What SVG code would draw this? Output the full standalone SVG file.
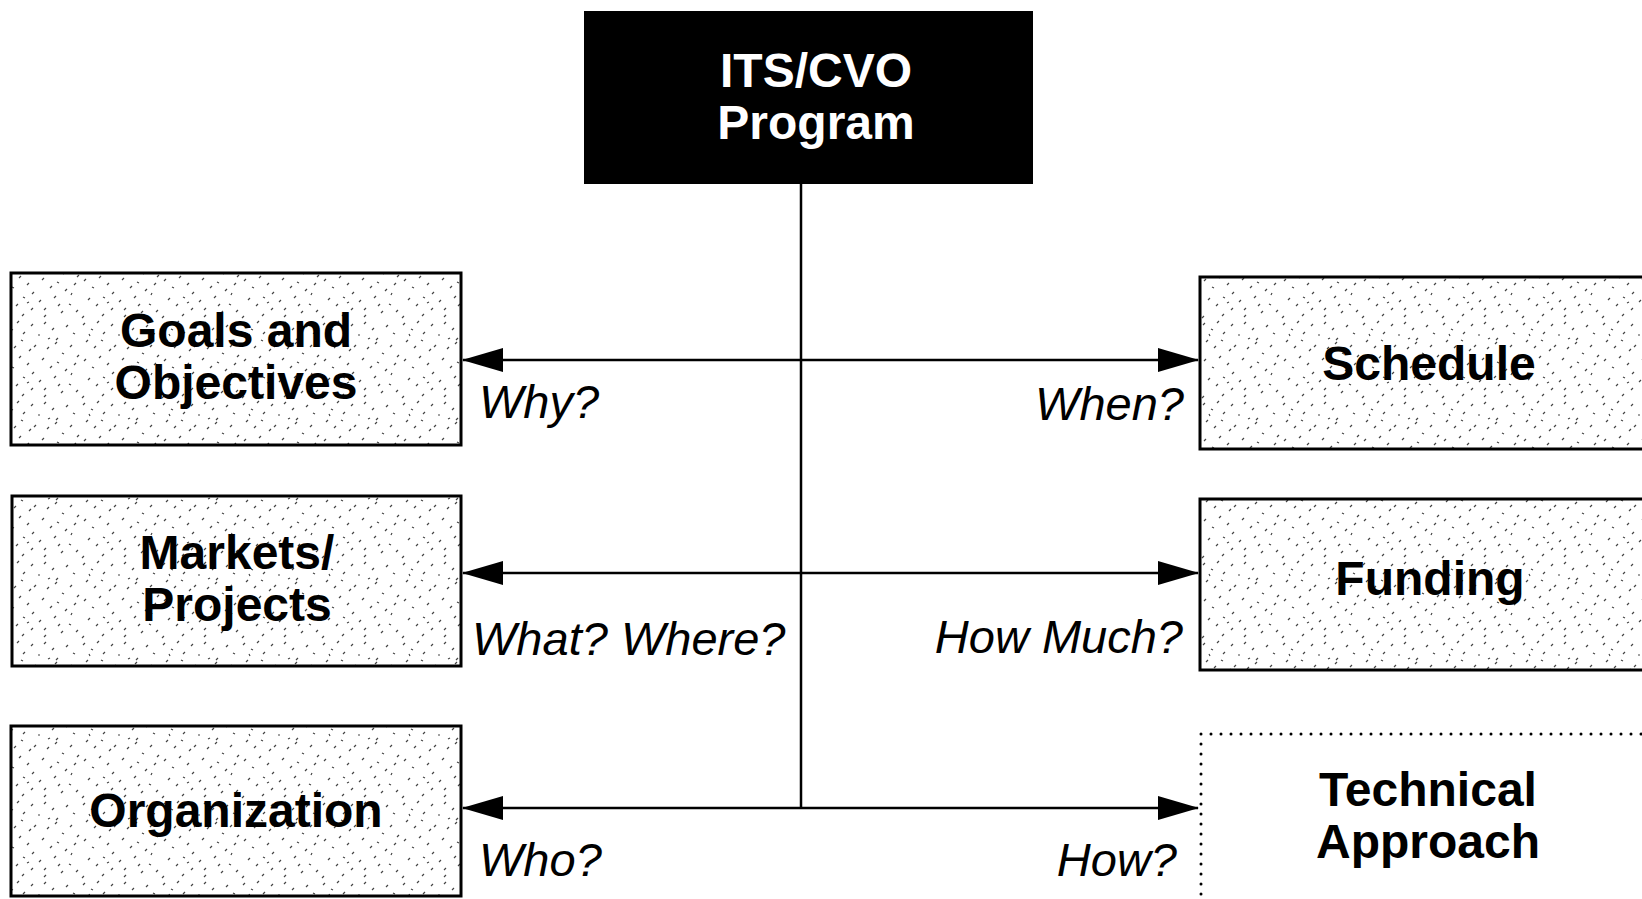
<svg xmlns="http://www.w3.org/2000/svg" width="1642" height="899" viewBox="0 0 1642 899">
<style>
.box{fill:url(#speckle);stroke:#000;stroke-width:3}
.lbl{font-family:"Liberation Sans",Arial,sans-serif;font-weight:bold;font-size:48px;fill:#000;text-anchor:middle}
.q{font-family:"Liberation Sans",Arial,sans-serif;font-style:italic;font-size:47px;fill:#000}
.conn{stroke:#000;stroke-width:2.5;fill:none}
</style>
<defs>
<pattern id="speckle" patternUnits="userSpaceOnUse" width="80" height="80">
<rect width="80" height="80" fill="#fff"/>
<path d="M3 5l2-2M11 9l2 1M17 3l2-2M25 12l-2 2M31 6l2-2M38 15l2 0M44 4l2-2M52 10l2-2M58 18l-2 2M66 7l2-2M73 13l2 1M6 22l2-2M14 28l2-2M21 20l2 1M29 31l2-2M36 25l-2 2M47 29l2-2M55 24l2-2M62 33l2 1M70 27l2-2M77 37l2-2M4 41l2-2M12 47l2 1M19 38l2-2M27 45l2-2M34 52l-2 2M42 40l2-2M50 48l2-2M57 42l2 1M65 51l2-2M74 45l2-2M8 60l2-2M16 66l2-2M23 57l2 1M31 70l2-2M39 62l2-2M46 68l-2 2M54 58l2-2M61 73l2-2M69 64l2 1M76 72l2-2M2 78l2-2M22 76l2-2M44 77l2-2M58 66l2-2M9 14l1 2M48 19l2-1M71 55l1-2M27 63l2-1" stroke="#444" stroke-width="1.2" fill="none"/>
</pattern>
<marker id="arrow" markerUnits="userSpaceOnUse" markerWidth="42" markerHeight="26" refX="40" refY="13" orient="auto">
<path d="M0 1L41 13L0 25Z" fill="#000"/>
</marker>
</defs>

<g id="connectors">
<line class="conn" x1="801" y1="183" x2="801" y2="808"/>
<line class="conn" x1="801" y1="360" x2="463" y2="360" marker-end="url(#arrow)"/>
<line class="conn" x1="801" y1="360" x2="1198" y2="360" marker-end="url(#arrow)"/>
<line class="conn" x1="801" y1="573" x2="463" y2="573" marker-end="url(#arrow)"/>
<line class="conn" x1="801" y1="573" x2="1198" y2="573" marker-end="url(#arrow)"/>
<line class="conn" x1="801" y1="808" x2="463" y2="808" marker-end="url(#arrow)"/>
<line class="conn" x1="801" y1="808" x2="1198" y2="808" marker-end="url(#arrow)"/>
</g>

<g id="labels">
<text class="q" x="479" y="418">Why?</text>
<text class="q" x="1184" y="420" text-anchor="end">When?</text>
<text class="q" x="472" y="655">What? Where?</text>
<text class="q" x="1183" y="653" text-anchor="end">How Much?</text>
<text class="q" x="479" y="876">Who?</text>
<text class="q" x="1177" y="876" text-anchor="end">How?</text>
</g>

<g id="program">
<rect x="585" y="12" width="447" height="171" fill="#000" stroke="#000" stroke-width="2"/>
<text class="lbl" x="816" y="87" style="fill:#fff">ITS/CVO</text>
<text class="lbl" x="816" y="139" style="fill:#fff">Program</text>
</g>

<g id="goals">
<rect class="box" x="11" y="273" width="450" height="172"/>
<text class="lbl" x="236" y="347">Goals and</text>
<text class="lbl" x="236" y="399">Objectives</text>
</g>

<g id="markets">
<rect class="box" x="12" y="496" width="449" height="170"/>
<text class="lbl" x="237" y="569">Markets/</text>
<text class="lbl" x="237" y="621">Projects</text>
</g>

<g id="organization">
<rect class="box" x="11" y="726" width="450" height="170"/>
<text class="lbl" x="236" y="827">Organization</text>
</g>

<g id="schedule">
<rect class="box" x="1200" y="277" width="470" height="172"/>
<text class="lbl" x="1429" y="380">Schedule</text>
</g>

<g id="funding">
<rect class="box" x="1200" y="499" width="470" height="171"/>
<text class="lbl" x="1430" y="595">Funding</text>
</g>

<g id="technical">
<rect x="1201" y="734" width="480" height="200" fill="#fff" stroke="#000" stroke-width="3" stroke-dasharray="0 10" stroke-linecap="round"/>
<text class="lbl" x="1428" y="806">Technical</text>
<text class="lbl" x="1428" y="858">Approach</text>
</g>
</svg>
